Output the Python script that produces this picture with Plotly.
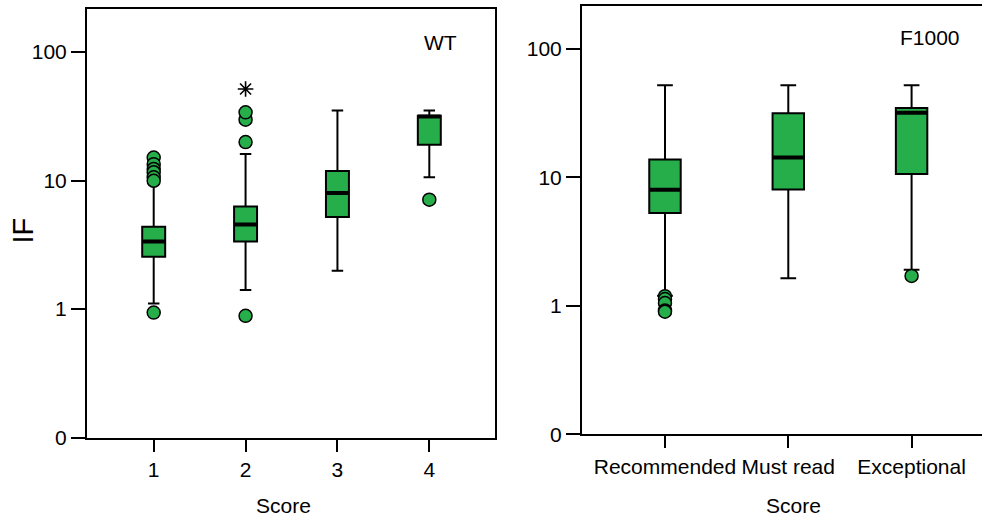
import plotly.graph_objects as go

# ---------------- data ----------------
wt_scores = [1, 2, 3, 4]
wt_q1 = [2.55, 3.36, 5.2, 19.0]
wt_median = [3.36, 4.55, 8.0, 31.5]
wt_q3 = [4.37, 6.29, 11.86, 31.9]
wt_lower = [1.105, 1.41, 1.99, 10.6]
wt_upper = [9.5, 16.1, 35.1, 35.1]
wt_out_x = [1, 1, 1, 1, 1, 1, 1, 2, 2, 2, 2, 4]
wt_out_y = [15.1, 13.4, 12.3, 11.6, 10.6, 9.96, 0.94, 19.9, 29.7, 33.9, 0.887, 7.1]
wt_extreme_x = [2]
wt_extreme_y = [51.5]

f_labels = ["Recommended", "Must read", "Exceptional"]
f_pos = [0, 1, 2]
f_q1 = [5.27, 8.04, 10.6]
f_median = [8.0, 14.3, 31.9]
f_q3 = [13.8, 31.6, 34.6]
f_lower = [1.2, 1.64, 1.91]
f_upper = [52.2, 52.2, 52.2]
f_out_x = [0, 0, 0, 0, 0, 2]
f_out_y = [1.19, 1.13, 1.05, 0.92, 0.90, 1.71]

y_tickvals = [0.1, 1, 10, 100]
y_ticktext = ["0", "1", "10", "100"]

# ---------------- style ----------------
GREEN = "rgb(38,174,74)"
FONT = "Liberation Sans, Arial, sans-serif"
W, H = 982, 518
wt_box_w = 0.25
f_box_w = 0.255

fig = go.Figure()


def add_panel(xs, q1, med, q3, lo, hi, ox, oy, bw, xa, ya):
    fig.add_trace(go.Box(
        x=xs, q1=q1, median=med, q3=q3, lowerfence=lo, upperfence=hi,
        width=bw, whiskerwidth=0.5, fillcolor=GREEN,
        line=dict(color="black", width=2), boxpoints=False,
        xaxis=xa, yaxis=ya, showlegend=False, hoverinfo="skip"))
    mx, my = [], []
    for p, m in zip(xs, med):
        mx += [p - bw / 2, p + bw / 2, None]
        my += [m, m, None]
    fig.add_trace(go.Scatter(x=mx, y=my, mode="lines",
                             line=dict(color="black", width=4),
                             xaxis=xa, yaxis=ya, showlegend=False, hoverinfo="skip"))
    fig.add_trace(go.Scatter(x=ox, y=oy, mode="markers",
                             marker=dict(size=13, color=GREEN, line=dict(color="black", width=1.5)),
                             xaxis=xa, yaxis=ya, showlegend=False, hoverinfo="skip"))


add_panel(wt_scores, wt_q1, wt_median, wt_q3, wt_lower, wt_upper,
          wt_out_x, wt_out_y, wt_box_w, "x", "y")
add_panel(f_pos, f_q1, f_median, f_q3, f_lower, f_upper,
          f_out_x, f_out_y, f_box_w, "x2", "y2")

fig.add_trace(go.Scatter(x=wt_extreme_x, y=wt_extreme_y, mode="markers",
                         marker=dict(symbol="asterisk-open", size=13, color="black",
                                     line=dict(color="black", width=1.6)),
                         xaxis="x", yaxis="y", showlegend=False, hoverinfo="skip"))

tickfont = dict(family=FONT, size=21, color="black")
common_y = dict(type="log", range=[-1, 2.334], tickvals=y_tickvals, ticktext=y_ticktext,
                showline=True, linecolor="black", linewidth=2, ticks="outside",
                ticklen=14, tickwidth=2, tickcolor="black", showgrid=False,
                zeroline=False, tickfont=tickfont, automargin=False)
common_x = dict(showline=True, linecolor="black", linewidth=2, ticks="outside",
                ticklen=12, tickwidth=2, tickcolor="black", showgrid=False,
                zeroline=False, tickfont=tickfont, automargin=False)


def label(text, px, py, size=21, angle=0):
    return dict(text=text, x=px / W, y=1 - py / H, xref="paper", yref="paper",
                xanchor="center", yanchor="middle", showarrow=False, textangle=angle,
                font=dict(family=FONT, size=size, color="black"))


fig.update_layout(
    width=W, height=H, margin=dict(l=0, r=0, t=0, b=0, autoexpand=False),
    paper_bgcolor="white", plot_bgcolor="white",
    font=dict(family=FONT, color="black"),
    xaxis=dict(**common_x, domain=[87 / W, 495 / W], range=[0.274, 4.715],
               tickvals=wt_scores, ticktext=[str(s) for s in wt_scores],
               mirror=True, anchor="y"),
    yaxis=dict(**common_y, domain=[1 - 437.7 / H, 1 - 9 / H], mirror=True, anchor="x"),
    xaxis2=dict(**common_x, domain=[582 / W, 1], range=[-0.673, 2.571],
                tickvals=f_pos, ticktext=f_labels, mirror=True, anchor="y2"),
    yaxis2=dict(**common_y, domain=[1 - 434.3 / H, 1 - 6 / H], anchor="x2"),
    annotations=[
        label("Score", 283, 505),
        label("Score", 793.6, 505),
        label("IF", 22.5, 231, size=29, angle=-90),
        label("WT", 440, 43),
        label("F1000", 930, 38),
    ],
)

fig.write_html("out.html",
               config={"displayModeBar": False, "staticPlot": True},
               post_script="document.body.style.margin='0';document.body.style.overflow='hidden';")
